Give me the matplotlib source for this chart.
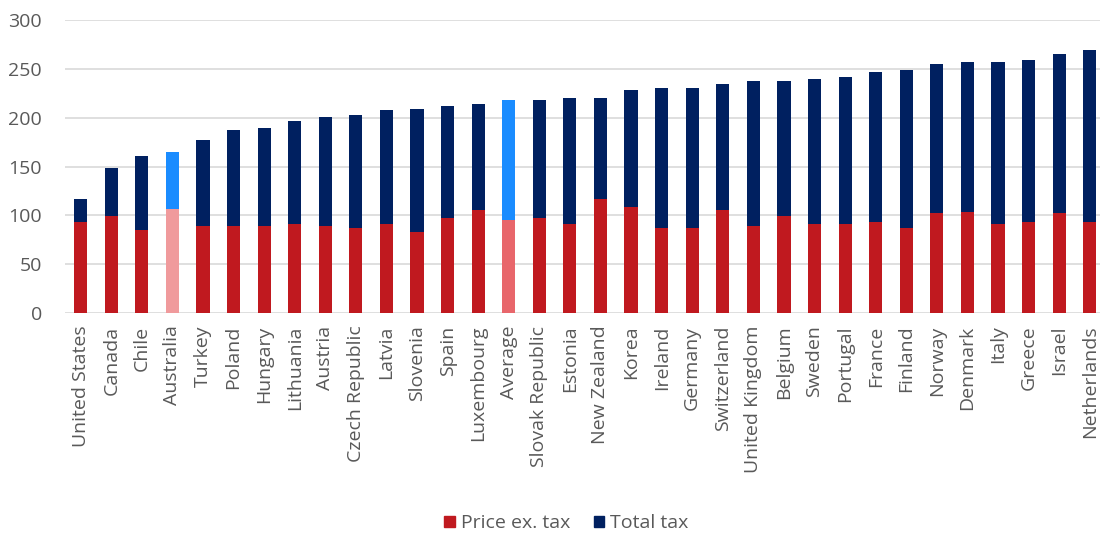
import matplotlib.pyplot as plt
import numpy as np

countries = ["United States", "Canada", "Chile", "Australia", "Turkey", "Poland", "Hungary",
             "Lithuania", "Austria", "Czech Republic", "Latvia", "Slovenia", "Spain",
             "Luxembourg", "Average", "Slovak Republic", "Estonia", "New Zealand", "Korea",
             "Ireland", "Germany", "Switzerland", "United Kingdom", "Belgium", "Sweden",
             "Portugal", "France", "Finland", "Norway", "Denmark", "Italy", "Greece",
             "Israel", "Netherlands"]
price_ex_tax = [93, 99, 85, 107, 89, 89, 89, 91, 89, 87, 91, 83, 97, 105, 95, 97, 91, 117,
                109, 87, 87, 105, 89, 99, 91, 91, 93, 87, 102, 103, 91, 93, 102, 93]
total_tax = [24, 49, 76, 58, 88, 98, 100, 106, 112, 116, 117, 126, 115, 109, 123, 121, 129,
             103, 119, 143, 143, 129, 149, 139, 149, 151, 154, 162, 153, 154, 166, 166, 163, 176]

red, navy = "#C0191F", "#002060"
highlight = {"Australia": ("#F09A9C", "#1A8CFF"), "Average": ("#E8666B", "#1A8CFF")}

plt.rcParams['font.family'] = ['Open Sans', 'DejaVu Sans']
fig = plt.figure(figsize=(11, 5.38), dpi=100)
ax = fig.add_axes([0.0595, 0.418, 0.945, 0.545])

x = np.arange(len(countries))
price_colors = [highlight.get(c, (red, navy))[0] for c in countries]
tax_colors = [highlight.get(c, (red, navy))[1] for c in countries]
ax.bar(x, price_ex_tax, width=0.43, color=price_colors, zorder=3)
ax.bar(x, total_tax, width=0.43, bottom=price_ex_tax, color=tax_colors, zorder=3)

ax.set_ylim(0, 300)
ax.set_yticks(range(0, 301, 50))
ax.set_xlim(-0.5, len(countries) - 0.5)
ax.set_xticks(x)
ax.set_xticklabels(countries, rotation=90)
ax.grid(axis='y', color="#d9d9d9", linewidth=1.2, zorder=0)
for s in ax.spines.values():
    s.set_visible(False)
ax.tick_params(length=0, labelsize=14, colors="#595959")
ax.tick_params(axis='x', pad=9)
ax.tick_params(axis='y', pad=17)

handles = [plt.Rectangle((0, 0), 1, 1, color=red), plt.Rectangle((0, 0), 1, 1, color=navy)]
fig.legend(handles, ["Price ex. tax", "Total tax"], loc='center', bbox_to_anchor=(0.515, 0.027),
           ncol=2, frameon=False, fontsize=14, handlelength=0.55, handleheight=0.55,
           handletextpad=0.3, columnspacing=1.2, labelcolor="#595959")

fig.savefig("out.png", dpi=100)
